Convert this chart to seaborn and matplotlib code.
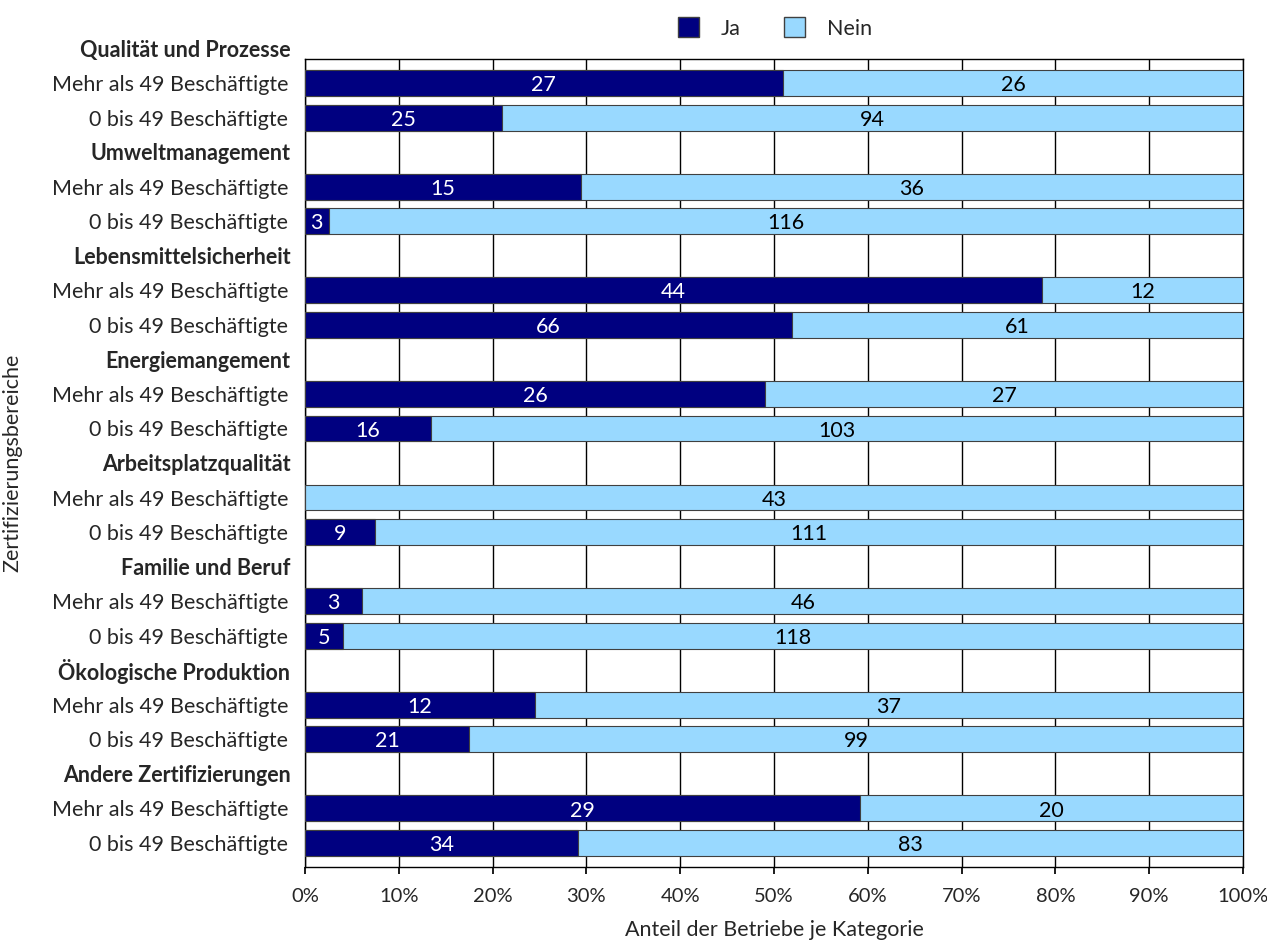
import matplotlib
matplotlib.use("Agg")
import matplotlib.pyplot as plt
import matplotlib.transforms as mtransforms
from matplotlib.patches import Patch
import numpy as np
import pandas as pd
import seaborn as sns

groups = ["Qualität und Prozesse", "Umweltmanagement", "Lebensmittelsicherheit",
          "Energiemangement", "Arbeitsplatzqualität", "Familie und Beruf",
          "Ökologische Produktion", "Andere Zertifizierungen"]
sizes = ["Mehr als 49 Beschäftigte", "0 bis 49 Beschäftigte"]
ja_mehr = [27, 15, 44, 26, 0, 3, 12, 29]
nein_mehr = [26, 36, 12, 27, 43, 46, 37, 20]
ja_klein = [25, 3, 66, 16, 9, 5, 21, 34]
nein_klein = [94, 116, 61, 103, 111, 118, 99, 83]
xticks = [0, 10, 20, 30, 40, 50, 60, 70, 80, 90, 100]

JA = "#000080"
NEIN = "#99D9FF"
EDGE = "#404040"
FS = 15.5

sns.set_theme(style="white")
plt.rcParams["font.family"] = ["Lato", "DejaVu Sans"]

rows = []
order = []
for g, jm, nm, jk, nk in zip(groups, ja_mehr, nein_mehr, ja_klein, nein_klein):
    order.append(g)
    for s, j, n in ((sizes[0], jm, nm), (sizes[1], jk, nk)):
        key = g + "|" + s
        order.append(key)
        rows.append({"row": key, "group": g, "size": s, "ja": j, "nein": n,
                     "ja_pct": 100 * j / (j + n), "total_pct": 100.0})
df = pd.DataFrame(rows)

fig = plt.figure(figsize=(12.67, 9.46), dpi=100)
ax = fig.add_axes([305 / 1267, 1 - 867 / 946, (1243 - 305) / 1267, (867 - 59) / 946])

sns.barplot(data=df, y="row", x="total_pct", order=order, orient="h", color=NEIN,
            edgecolor=EDGE, linewidth=0.8, width=0.75, saturation=1, ax=ax, zorder=3)
sns.barplot(data=df, y="row", x="ja_pct", order=order, orient="h", color=JA,
            edgecolor=EDGE, linewidth=0.8, width=0.75, saturation=1, ax=ax, zorder=4)

pos = {k: i for i, k in enumerate(order)}
for _, r in df.iterrows():
    y = pos[r["row"]]
    if r["ja"] > 0:
        ax.text(r["ja_pct"] / 2, y + 0.06, str(r["ja"]), color="white", ha="center",
                va="center", fontsize=FS, zorder=6)
    if r["nein"] > 0:
        ax.text(r["ja_pct"] + (100 - r["ja_pct"]) / 2, y + 0.06, str(r["nein"]),
                color="black", ha="center", va="center", fontsize=FS, zorder=6)

ax.set_xlim(0, 100)
ax.set_ylim(23.695, 0.305)
ax.set_xticks(xticks)
ax.set_xticklabels([f"{t}%" for t in xticks], fontsize=14.5)
ax.xaxis.grid(True, color="black", linewidth=1, zorder=1)
ax.set_axisbelow(True)
ax.tick_params(axis="x", direction="out", length=5, color="black", pad=10, bottom=True)
ax.tick_params(axis="y", length=0)
ax.set_yticks([pos[k] for k in order if "|" in k])
ax.set_yticklabels([k.split("|")[1] for k in order if "|" in k], fontsize=FS)
ax.tick_params(axis="y", pad=12)
trans = mtransforms.blended_transform_factory(ax.transAxes, ax.transData)
for g in groups:
    ax.text(-0.0155, pos[g] + 0.05, g, transform=trans, ha="right", va="center",
            fontsize=FS, fontweight="bold", clip_on=False)
for sp in ax.spines.values():
    sp.set_visible(True)
    sp.set_color("black")
    sp.set_linewidth(1)

ax.set_xlabel("")
ax.set_ylabel("")
fig.text(774 / 1267, 1 - 930 / 946, "Anteil der Betriebe je Kategorie",
         ha="center", va="center", fontsize=FS)
fig.text(12 / 1267, 1 - 463 / 946, "Zertifizierungsbereiche", rotation=90,
         ha="center", va="center", fontsize=FS)

handles = [Patch(facecolor=JA, edgecolor=EDGE, label="Ja"),
           Patch(facecolor=NEIN, edgecolor=EDGE, label="Nein")]
fig.legend(handles=handles, loc="center", bbox_to_anchor=(775 / 1267, 1 - 28 / 946),
           ncol=2, frameon=False, fontsize=FS, handlelength=1.0, handleheight=1.0,
           columnspacing=2.0, handletextpad=1.0)

fig.savefig("out.png", dpi=100)
